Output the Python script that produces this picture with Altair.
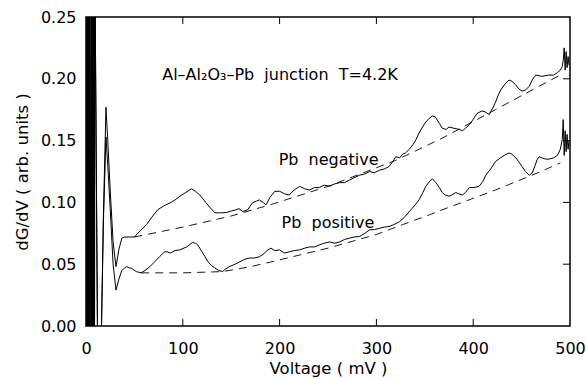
import altair as alt
import pandas as pd

# ---------------- data ----------------
# zero-bias oscillation region (dense, clipped at the plot edges)
zb_v = [0.2, 0.5, 0.8, 1.1, 1.4, 1.7, 2.0, 2.3, 2.6, 2.9, 3.2, 3.5, 3.8, 4.1,
        5.5, 5.8, 6.1, 6.4, 6.7, 7.0, 7.3, 7.6, 7.9, 8.2, 8.5, 8.8, 9.1, 12.0, 15.0]
zb_y = [0.30, -0.02, 0.30, -0.02, 0.30, -0.02, 0.30, -0.02, 0.30, -0.02, 0.30, -0.02, 0.30, -0.02,
        0.30, -0.02, 0.30, -0.02, 0.30, -0.02, 0.30, -0.02, 0.30, -0.02, 0.30, -0.02, 0.30, -0.02, -0.02]

neg_v = [16, 18, 20.6, 22.5, 25, 28, 31, 34, 37, 40, 45, 50, 56, 62.5, 68, 74, 80, 87, 92, 97,
         103, 109, 113, 117.5, 124, 128, 133, 139, 145, 150, 155, 158, 162, 167, 172, 176, 179,
         183, 186, 190, 195, 200, 205, 210, 215, 220.6, 226, 231, 236, 241, 246, 251.5, 257,
         262, 267, 272, 277, 282.5, 288, 293, 298, 303, 308, 313, 317, 320, 324, 327, 330, 334,
         338, 341, 344, 347.6, 351, 354.6, 358, 361, 365, 368, 372, 375, 380, 385.6, 389, 392,
         396, 399, 404, 409, 413, 416.5, 420, 423, 426, 428.5, 433, 437, 440, 444, 447, 450.5,
         454, 458, 461, 464.6, 471, 478, 483, 487, 490, 492, 493, 494, 495, 496, 497, 498, 499]
neg_y = [0.0, 0.09, 0.177, 0.15, 0.11, 0.068, 0.048, 0.062, 0.071, 0.072, 0.072, 0.072, 0.077,
         0.082, 0.088, 0.094, 0.097, 0.0997, 0.102, 0.105, 0.108, 0.111, 0.109, 0.106, 0.0997,
         0.096, 0.0916, 0.0915, 0.0918, 0.093, 0.094, 0.095, 0.0926, 0.094, 0.0997, 0.101, 0.102,
         0.100, 0.098, 0.104, 0.109, 0.109, 0.107, 0.106, 0.110, 0.113, 0.111, 0.110, 0.112,
         0.112, 0.114, 0.113, 0.115, 0.116, 0.116, 0.118, 0.120, 0.122, 0.123, 0.125, 0.124,
         0.126, 0.127, 0.129, 0.133, 0.137, 0.136, 0.139, 0.140, 0.143, 0.147, 0.151, 0.156,
         0.161, 0.165, 0.168, 0.170, 0.169, 0.164, 0.160, 0.159, 0.161, 0.160, 0.159, 0.158,
         0.160, 0.163, 0.166, 0.172, 0.174, 0.173, 0.171, 0.176, 0.181, 0.187, 0.191, 0.196,
         0.199, 0.198, 0.195, 0.192, 0.190, 0.191, 0.194, 0.199, 0.203, 0.202, 0.203, 0.203,
         0.205, 0.207, 0.210, 0.215, 0.225, 0.207, 0.222, 0.209, 0.218, 0.211]

pos_v = [16, 18, 20.6, 22.5, 25, 28, 31, 34, 37, 40, 42, 45, 47, 52, 57, 61, 66, 71, 76, 81, 84,
         87, 92, 97, 104, 110, 113, 115.5, 119, 123, 126, 129.6, 133, 137, 141, 144, 148, 154,
         159, 164, 169, 174, 179, 183, 187, 191, 195, 200, 205, 210, 215, 220.6, 226, 231, 236,
         241, 246, 251.5, 257, 262, 267, 272, 277, 282.5, 288, 293, 298, 303, 308, 313, 318,
         324, 329, 334, 339, 344, 348, 351, 356, 358, 361.5, 365, 368, 371, 375, 378, 382, 385,
         389, 392, 396, 401, 406, 410, 413, 418, 423, 428, 432, 437, 440, 444, 447, 450.5, 454,
         458, 461, 464, 466, 468, 471, 475, 478, 483, 487, 490, 492, 493, 494, 495, 496, 497,
         498, 499]
pos_y = [0.0, 0.085, 0.153, 0.13, 0.095, 0.05, 0.029, 0.038, 0.045, 0.047, 0.048, 0.047, 0.0467,
         0.044, 0.043, 0.045, 0.048, 0.052, 0.056, 0.060, 0.060, 0.059, 0.061, 0.0616, 0.064,
         0.0675, 0.067, 0.0656, 0.061, 0.056, 0.052, 0.049, 0.047, 0.045, 0.044, 0.046, 0.048,
         0.050, 0.052, 0.054, 0.055, 0.055, 0.056, 0.058, 0.061, 0.063, 0.061, 0.0616, 0.059,
         0.060, 0.061, 0.0616, 0.063, 0.064, 0.064, 0.0656, 0.067, 0.068, 0.067, 0.068, 0.070,
         0.071, 0.072, 0.0724, 0.075, 0.0778, 0.078, 0.079, 0.080, 0.0805, 0.082, 0.0845, 0.088,
         0.0926, 0.097, 0.102, 0.108, 0.113, 0.118, 0.119, 0.116, 0.112, 0.108, 0.106, 0.105,
         0.106, 0.108, 0.107, 0.106, 0.108, 0.112, 0.112, 0.113, 0.117, 0.122, 0.127, 0.133,
         0.136, 0.138, 0.140, 0.139, 0.136, 0.133, 0.129, 0.125, 0.122, 0.124, 0.130, 0.1345,
         0.137, 0.136, 0.135, 0.135, 0.136, 0.138, 0.143, 0.151, 0.167, 0.138, 0.158, 0.141,
         0.155, 0.143, 0.150]

negfit_v = [50, 100, 150, 190, 250, 280, 320, 368, 423, 468, 490]
negfit_y = [0.072, 0.080, 0.089, 0.098, 0.113, 0.122, 0.134, 0.152, 0.175, 0.194, 0.203]

posfit_v = [57, 100, 141, 170, 200, 250, 300, 327, 355, 368, 423, 470, 490]
posfit_y = [0.043, 0.043, 0.044, 0.048, 0.0535, 0.063, 0.074, 0.082, 0.090, 0.094, 0.110, 0.125, 0.132]

x_ticks = [100, 200, 300, 400]
y_ticks = [0.05, 0.10, 0.15, 0.20]

NB = "\u00a0"
labels_text = ["Al–Al₂O₃–Pb" + NB * 2 + "junction" + NB * 2 + "T=4.2K",
               "Pb" + NB * 2 + "negative", "Pb" + NB * 2 + "positive"]
labels_v = [78.7, 199, 202]
labels_y = [0.1994, 0.130, 0.0792]

# ---------------- tables ----------------
rows = []
for name, vs, ys in [("neg", zb_v + neg_v, zb_y + neg_y), ("pos", zb_v + pos_v, zb_y + pos_y)]:
    for v, y in zip(vs, ys):
        rows.append({"series": name, "V": v, "G": y})
curves = pd.DataFrame(rows)

frows = []
for name, vs, ys in [("negfit", negfit_v, negfit_y), ("posfit", posfit_v, posfit_y)]:
    for v, y in zip(vs, ys):
        frows.append({"series": name, "V": v, "G": y})
fits = pd.DataFrame(frows)

labels = pd.DataFrame({"text": labels_text, "V": labels_v, "G": labels_y})
xt = pd.DataFrame({"t": x_ticks})
yt = pd.DataFrame({"t": y_ticks})

W, H = 484, 309
FONT = "DejaVu Sans"

xs = alt.Scale(domain=[0, 500], nice=False, zero=False)
ys_ = alt.Scale(domain=[0, 0.25], nice=False, zero=False)
xaxis = alt.Axis(values=[0, 100, 200, 300, 400, 500], format="d", ticks=False, domain=False,
                 grid=False, labelPadding=14, titlePadding=4, labelFontSize=16,
                 titleFontSize=16.5, labelFlush=False)
yaxis = alt.Axis(values=[0, 0.05, 0.10, 0.15, 0.20, 0.25], format=".2f", ticks=False,
                 domain=False, grid=False, labelPadding=10, titlePadding=10, labelFontSize=16,
                 titleFontSize=16.5, labelFlush=False)

def X(field):
    return alt.X(field, type="quantitative", scale=xs, axis=xaxis, title="Voltage ( mV )")

def Y(field):
    return alt.Y(field, type="quantitative", scale=ys_, axis=yaxis, title="dG/dV ( arb. units )")

solid = alt.Chart(curves).mark_line(color="black", strokeWidth=1, clip=True).encode(
    x=X("V"), y=Y("G"), detail="series:N")

dashed = alt.Chart(fits).mark_line(color="black", strokeWidth=0.9, strokeDash=[8, 6], clip=True).encode(
    x=X("V"), y=Y("G"), detail="series:N")

text = alt.Chart(labels).mark_text(align="left", baseline="alphabetic", font=FONT, fontSize=16,
                                   color="black").encode(x=X("V"), y=Y("G"), text="text:N")

tick_top = alt.Chart(xt).mark_rule(color="black", strokeWidth=1).encode(
    x=X("t"), y=alt.value(0), y2=alt.value(7))
tick_bot = alt.Chart(xt).mark_rule(color="black", strokeWidth=1).encode(
    x=X("t"), y=alt.value(H), y2=alt.value(H - 7))
tick_left = alt.Chart(yt).mark_rule(color="black", strokeWidth=1).encode(
    y=Y("t"), x=alt.value(0), x2=alt.value(7))
tick_right = alt.Chart(yt).mark_rule(color="black", strokeWidth=1).encode(
    y=Y("t"), x=alt.value(W), x2=alt.value(W - 7))

chart = alt.layer(solid, dashed, text, tick_top, tick_bot, tick_left, tick_right).properties(
    width=W, height=H,
    autosize=alt.AutoSizeParams(type="none"),
    padding={"left": 86, "top": 17, "right": 16, "bottom": 53},
    background="white",
).configure_view(stroke="black", strokeWidth=1.5).configure_axis(
    labelFont=FONT, titleFont=FONT, labelColor="black", titleColor="black",
    titleFontWeight="normal")

chart.save("out.html", embed_options={"renderer": "svg", "actions": False})
